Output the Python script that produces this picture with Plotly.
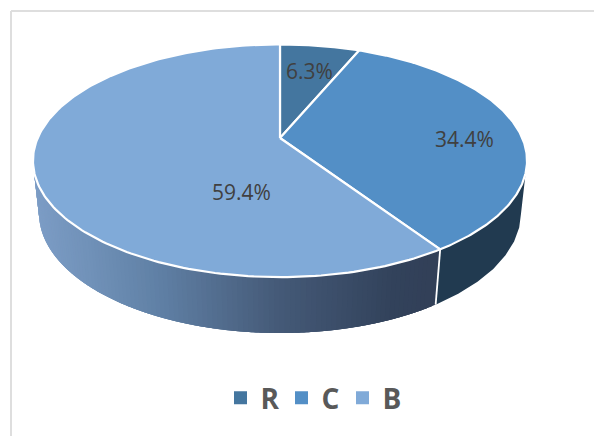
import numpy as np
import plotly.graph_objects as go

# ---- data ----
categories = ["R", "C", "B"]
percent = [6.3, 34.4, 59.4]
labels = ["6.3%", "34.4%", "59.4%"]

# ---- styles ----
top_colors = ["#44769F", "#538FC6", "#80AAD8"]
C_WALL = "#213A50"
grad_x = [33, 100, 170, 290, 400, 440]
grad_rgb = np.array([[126, 158, 199], [112, 145, 184], [96, 128, 165],
                     [69, 90, 120], [51, 67, 92], [50, 64, 88]], dtype=float)
TEXT = "#404040"
LEGEND_TEXT = "#595959"
W, H = 594, 436
label_pos = [(309, 71), (464, 139), (241, 192)]

# projection of the round pie onto the page
TOP = dict(cx=280.0, cy=138.0, r=242.3, s=112.0, k=0.195)
BOT = dict(cx=280.0, cy=190.2, r=236.6, s=115.7, k=0.19)


def project(p, theta, rho=1.0):
    u, v = rho * np.sin(theta), rho * np.cos(theta)
    w = 1 + p["k"] * v
    return p["cx"] + p["r"] * u / w, p["cy"] - p["s"] * v / w


vals = np.array(percent, dtype=float)
edges = np.concatenate([[0], np.cumsum(vals) / vals.sum()]) * 2 * np.pi

fig = go.Figure()


def wall_piece(a0, a1, col):
    arc = np.linspace(a0, a1, 8)
    tx, ty = project(TOP, arc)
    bx, by = project(BOT, arc[::-1])
    fig.add_trace(go.Scatter(x=np.concatenate([tx, bx, tx[:1]]),
                             y=np.concatenate([ty, by, ty[:1]]),
                             mode="none", fill="toself", fillcolor=col,
                             hoverinfo="skip", showlegend=False))


right = np.arccos(-TOP["k"])
left = 2 * np.pi - right

# wall of the C slice: one flat colour
wall_piece(right, edges[2], C_WALL)

# wall of the B slice: gradient strips, each painted over the overlap of the previous one
ang = np.linspace(edges[2], left, 111)
for j in range(len(ang) - 2, -1, -1):
    a1 = ang[min(j + 3, len(ang) - 1)]
    mid = (ang[j] + ang[j + 1]) / 2
    xm = (project(TOP, mid)[0] + project(BOT, mid)[0]) / 2
    rgb = [np.interp(xm, grad_x, grad_rgb[:, i]) for i in range(3)]
    wall_piece(ang[j], a1, "rgb(%d,%d,%d)" % tuple(rgb))

# seam on the wall between the C and B slices
sx0, sy0 = project(TOP, edges[2])
sx1, sy1 = project(BOT, edges[2])
fig.add_trace(go.Scatter(x=[sx0, sx1], y=[sy0, sy1], mode="lines",
                         line=dict(color="white", width=1.8), hoverinfo="skip",
                         showlegend=False))

# top face slices
for i, name in enumerate(categories):
    t = np.linspace(edges[i], edges[i + 1], 200)
    ex, ey = project(TOP, t)
    xs = np.concatenate([[TOP["cx"]], ex, [TOP["cx"]]])
    ys = np.concatenate([[TOP["cy"]], ey, [TOP["cy"]]])
    fig.add_trace(go.Scatter(x=xs, y=ys, mode="lines", fill="toself",
                             fillcolor=top_colors[i], line=dict(color="white", width=2.2),
                             name=name, hoverinfo="skip", showlegend=False))

# legend entries
for i, name in enumerate(categories):
    fig.add_trace(go.Scatter(x=[None], y=[None], mode="markers", name=name,
                             marker=dict(symbol="square", size=13, color=top_colors[i])))

for (lx, ly), text in zip(label_pos, labels):
    fig.add_annotation(x=lx, y=ly, text=text, showarrow=False, xref="x", yref="y",
                       font=dict(family="Open Sans", size=21, color=TEXT))

frame = dict(type="line", layer="below", line=dict(color="#DEDEDE", width=2), xref="x", yref="y")
fig.update_layout(
    width=W, height=H, margin=dict(l=0, r=0, t=0, b=0),
    paper_bgcolor="white", plot_bgcolor="white",
    xaxis=dict(visible=False, range=[0, W], fixedrange=True),
    yaxis=dict(visible=False, range=[H, 0], fixedrange=True),
    shapes=[dict(frame, x0=11, x1=11, y0=11, y1=H), dict(frame, x0=11, x1=W, y0=11, y1=11)],
    legend=dict(orientation="h", x=220.5 / W, xanchor="left", y=38 / H, yanchor="middle",
                font=dict(family="Open Sans", size=28, color=LEGEND_TEXT, weight="bold"),
                itemwidth=30, entrywidth=16, entrywidthmode="pixels",
                bgcolor="rgba(0,0,0,0)", itemclick=False, itemdoubleclick=False),
)
fig.write_html("out.html", config=dict(displayModeBar=False),
               post_script="document.body.style.margin='0';")
